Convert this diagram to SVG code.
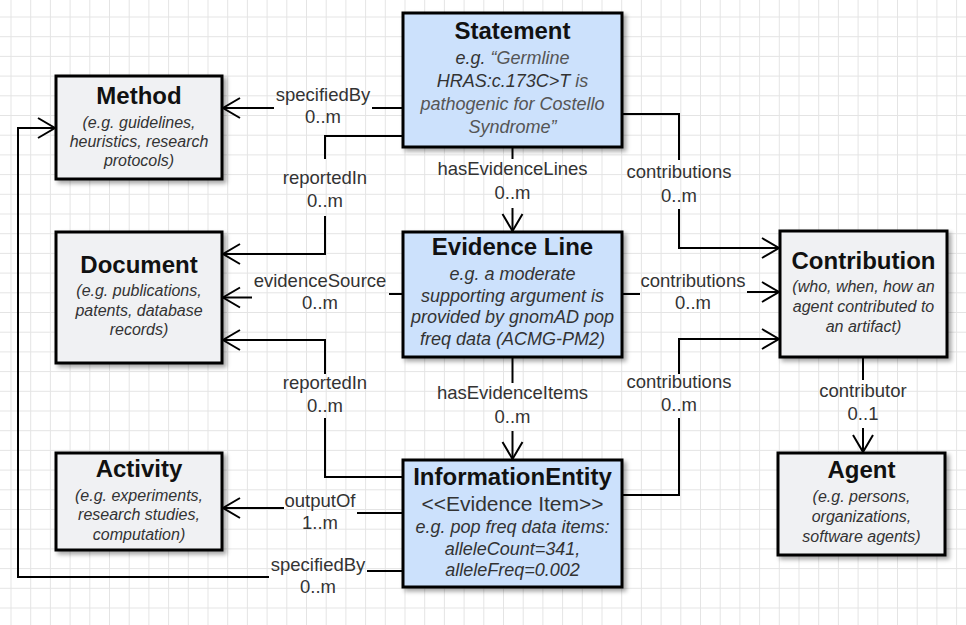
<svg xmlns="http://www.w3.org/2000/svg" width="966" height="625" viewBox="0 0 966 625">
<defs>
<pattern id="grid" patternUnits="userSpaceOnUse" x="10.5" y="16.5" width="19.7" height="19.7">
<path d="M0.5 0 V19.7 M0 0.5 H19.7" stroke="#e4e4e4" stroke-width="1" fill="none"/>
</pattern>
<filter id="shadow" x="-10%" y="-10%" width="130%" height="130%">
<feDropShadow dx="3" dy="3" stdDeviation="2" flood-color="#000" flood-opacity="0.35"/>
</filter>
<marker id="arrow" markerUnits="userSpaceOnUse" markerWidth="22" markerHeight="24" refX="18" refY="11" orient="auto">
<path d="M1,1 L18,11 L1,21" fill="none" stroke="#000" stroke-width="2"/>
</marker>
</defs>
<style>
.box{stroke:#000;stroke-width:3;filter:url(#shadow)}
.gray{fill:#f0f1f3}
.blue{fill:#cce1fc}
.title{font-family:"Liberation Sans",Arial,sans-serif;font-size:24px;font-weight:bold;fill:#111;text-anchor:middle}
.sub{font-family:"Liberation Sans",Arial,sans-serif;font-size:16px;font-style:italic;fill:#333;text-anchor:middle}
.subl{font-family:"Liberation Sans",Arial,sans-serif;font-size:18px;font-style:italic;fill:#333;text-anchor:middle}
.stereo{font-family:"Liberation Sans",Arial,sans-serif;font-size:21px;fill:#333;text-anchor:middle}
.lbl{font-family:"Liberation Sans",Arial,sans-serif;font-size:18.5px;fill:#333;text-anchor:middle}
.edge{fill:none;stroke:#000;stroke-width:2}
.g5{fill:#555}
</style>
<rect x="0" y="0" width="966" height="625" fill="#fff"/>
<rect x="0" y="0" width="966" height="625" fill="url(#grid)"/>

<g id="connectors">
<!-- Statement specifiedBy Method -->
<path class="edge" d="M403,108 H372"/>
<path class="edge" d="M274,108 H223" marker-end="url(#arrow)"/>
<text class="lbl" x="323" y="101">specifiedBy</text>
<text class="lbl" x="323" y="123">0..m</text>
<!-- Statement reportedIn Document -->
<path class="edge" d="M403,136 H325 V159"/>
<path class="edge" d="M325,216 V254 H223" marker-end="url(#arrow)"/>
<text class="lbl" x="325" y="184">reportedIn</text>
<text class="lbl" x="325" y="207">0..m</text>
<!-- hasEvidenceLines -->
<path class="edge" d="M512.5,147 V159"/>
<path class="edge" d="M512.5,208 V231" marker-end="url(#arrow)"/>
<text class="lbl" x="512.5" y="175">hasEvidenceLines</text>
<text class="lbl" x="512.5" y="199">0..m</text>
<!-- Statement contributions -->
<path class="edge" d="M622,114 H679 V160"/>
<path class="edge" d="M679,209 V248 H779" marker-end="url(#arrow)"/>
<text class="lbl" x="679" y="178">contributions</text>
<text class="lbl" x="679" y="202">0..m</text>
<!-- evidenceSource -->
<path class="edge" d="M403,294 H389"/>
<path class="edge" d="M252,297.5 H223" marker-end="url(#arrow)"/>
<text class="lbl" x="320" y="287">evidenceSource</text>
<text class="lbl" x="320" y="309">0..m</text>
<!-- EL contributions -->
<path class="edge" d="M622,294 H640"/>
<path class="edge" d="M747,292 H779" marker-end="url(#arrow)"/>
<text class="lbl" x="693" y="287">contributions</text>
<text class="lbl" x="693" y="309">0..m</text>
<!-- hasEvidenceItems -->
<path class="edge" d="M512.5,357 V383"/>
<path class="edge" d="M512.5,431 V459" marker-end="url(#arrow)"/>
<text class="lbl" x="512.5" y="399">hasEvidenceItems</text>
<text class="lbl" x="512.5" y="423">0..m</text>
<!-- IE reportedIn Document -->
<path class="edge" d="M403,477 H325 V418"/>
<path class="edge" d="M325,374 V340 H223" marker-end="url(#arrow)"/>
<text class="lbl" x="325" y="389">reportedIn</text>
<text class="lbl" x="325" y="412">0..m</text>
<!-- IE contributions -->
<path class="edge" d="M622,495 H679 V418"/>
<path class="edge" d="M679,374 V339 H779" marker-end="url(#arrow)"/>
<text class="lbl" x="679" y="388">contributions</text>
<text class="lbl" x="679" y="411">0..m</text>
<!-- outputOf -->
<path class="edge" d="M403,513 H357"/>
<path class="edge" d="M284,508 H223" marker-end="url(#arrow)"/>
<text class="lbl" x="320" y="507">outputOf</text>
<text class="lbl" x="320" y="529">1..m</text>
<!-- IE specifiedBy Method -->
<path class="edge" d="M403,571 H367"/>
<path class="edge" d="M269,577 H18 V128 H55" marker-end="url(#arrow)"/>
<text class="lbl" x="318" y="571">specifiedBy</text>
<text class="lbl" x="318" y="593">0..m</text>
<!-- contributor -->
<path class="edge" d="M863,357 V380"/>
<path class="edge" d="M863,428 V452" marker-end="url(#arrow)"/>
<text class="lbl" x="863" y="397">contributor</text>
<text class="lbl" x="863" y="420">0..1</text>
</g>

<g id="method">
<rect class="box gray" x="56" y="76" width="166" height="103"/>
<text class="title" x="139" y="104">Method</text>
<text class="sub" x="139" y="128">(e.g. guidelines,</text>
<text class="sub" x="139" y="147">heuristics, research</text>
<text class="sub" x="139" y="166">protocols)</text>
</g>

<g id="document">
<rect class="box gray" x="56" y="232" width="166" height="131"/>
<text class="title" x="139" y="273">Document</text>
<text class="sub" x="139" y="296">(e.g. publications,</text>
<text class="sub" x="139" y="316">patents, database</text>
<text class="sub" x="139" y="335">records)</text>
</g>

<g id="activity">
<rect class="box gray" x="56" y="453" width="166" height="97"/>
<text class="title" x="139" y="477">Activity</text>
<text class="sub" x="139" y="501">(e.g. experiments,</text>
<text class="sub" x="139" y="520">research studies,</text>
<text class="sub" x="139" y="540">computation)</text>
</g>

<g id="statement">
<rect class="box blue" x="403" y="13" width="219" height="134"/>
<text class="title" x="512.5" y="39">Statement</text>
<text class="subl" x="512.5" y="64">e.g. <tspan class="g5">“Germline</tspan></text>
<text class="subl" x="512.5" y="87">HRAS:c.173C&gt;T <tspan class="g5">is</tspan></text>
<text class="subl g5" x="512.5" y="110">pathogenic for Costello</text>
<text class="subl g5" x="512.5" y="133">Syndrome”</text>
</g>

<g id="evidence-line">
<rect class="box blue" x="403" y="232" width="219" height="125"/>
<text class="title" x="512.5" y="255">Evidence Line</text>
<text class="subl" x="512.5" y="280">e.g. a moderate</text>
<text class="subl" x="512.5" y="302">supporting argument is</text>
<text class="subl" x="512.5" y="323">provided by gnomAD pop</text>
<text class="subl" x="512.5" y="345">freq data (ACMG-PM2)</text>
</g>

<g id="information-entity">
<rect class="box blue" x="403" y="460" width="219" height="127"/>
<text class="title" x="512.5" y="485">InformationEntity</text>
<text class="stereo" x="512.5" y="511">&lt;&lt;Evidence Item&gt;&gt;</text>
<text class="subl" x="512.5" y="533">e.g. pop freq data items:</text>
<text class="subl" x="512.5" y="555">alleleCount=341,</text>
<text class="subl" x="512.5" y="576">alleleFreq=0.002</text>
</g>

<g id="contribution">
<rect class="box gray" x="780" y="231" width="167" height="126"/>
<text class="title" x="863.5" y="269">Contribution</text>
<text class="sub" x="863.5" y="292">(who, when, how an</text>
<text class="sub" x="863.5" y="312">agent contributed to</text>
<text class="sub" x="863.5" y="332">an artifact)</text>
</g>

<g id="agent">
<rect class="box gray" x="778" y="453" width="167" height="102"/>
<text class="title" x="861.5" y="478">Agent</text>
<text class="sub" x="861.5" y="502">(e.g. persons,</text>
<text class="sub" x="861.5" y="522">organizations,</text>
<text class="sub" x="861.5" y="542">software agents)</text>
</g>
</svg>
